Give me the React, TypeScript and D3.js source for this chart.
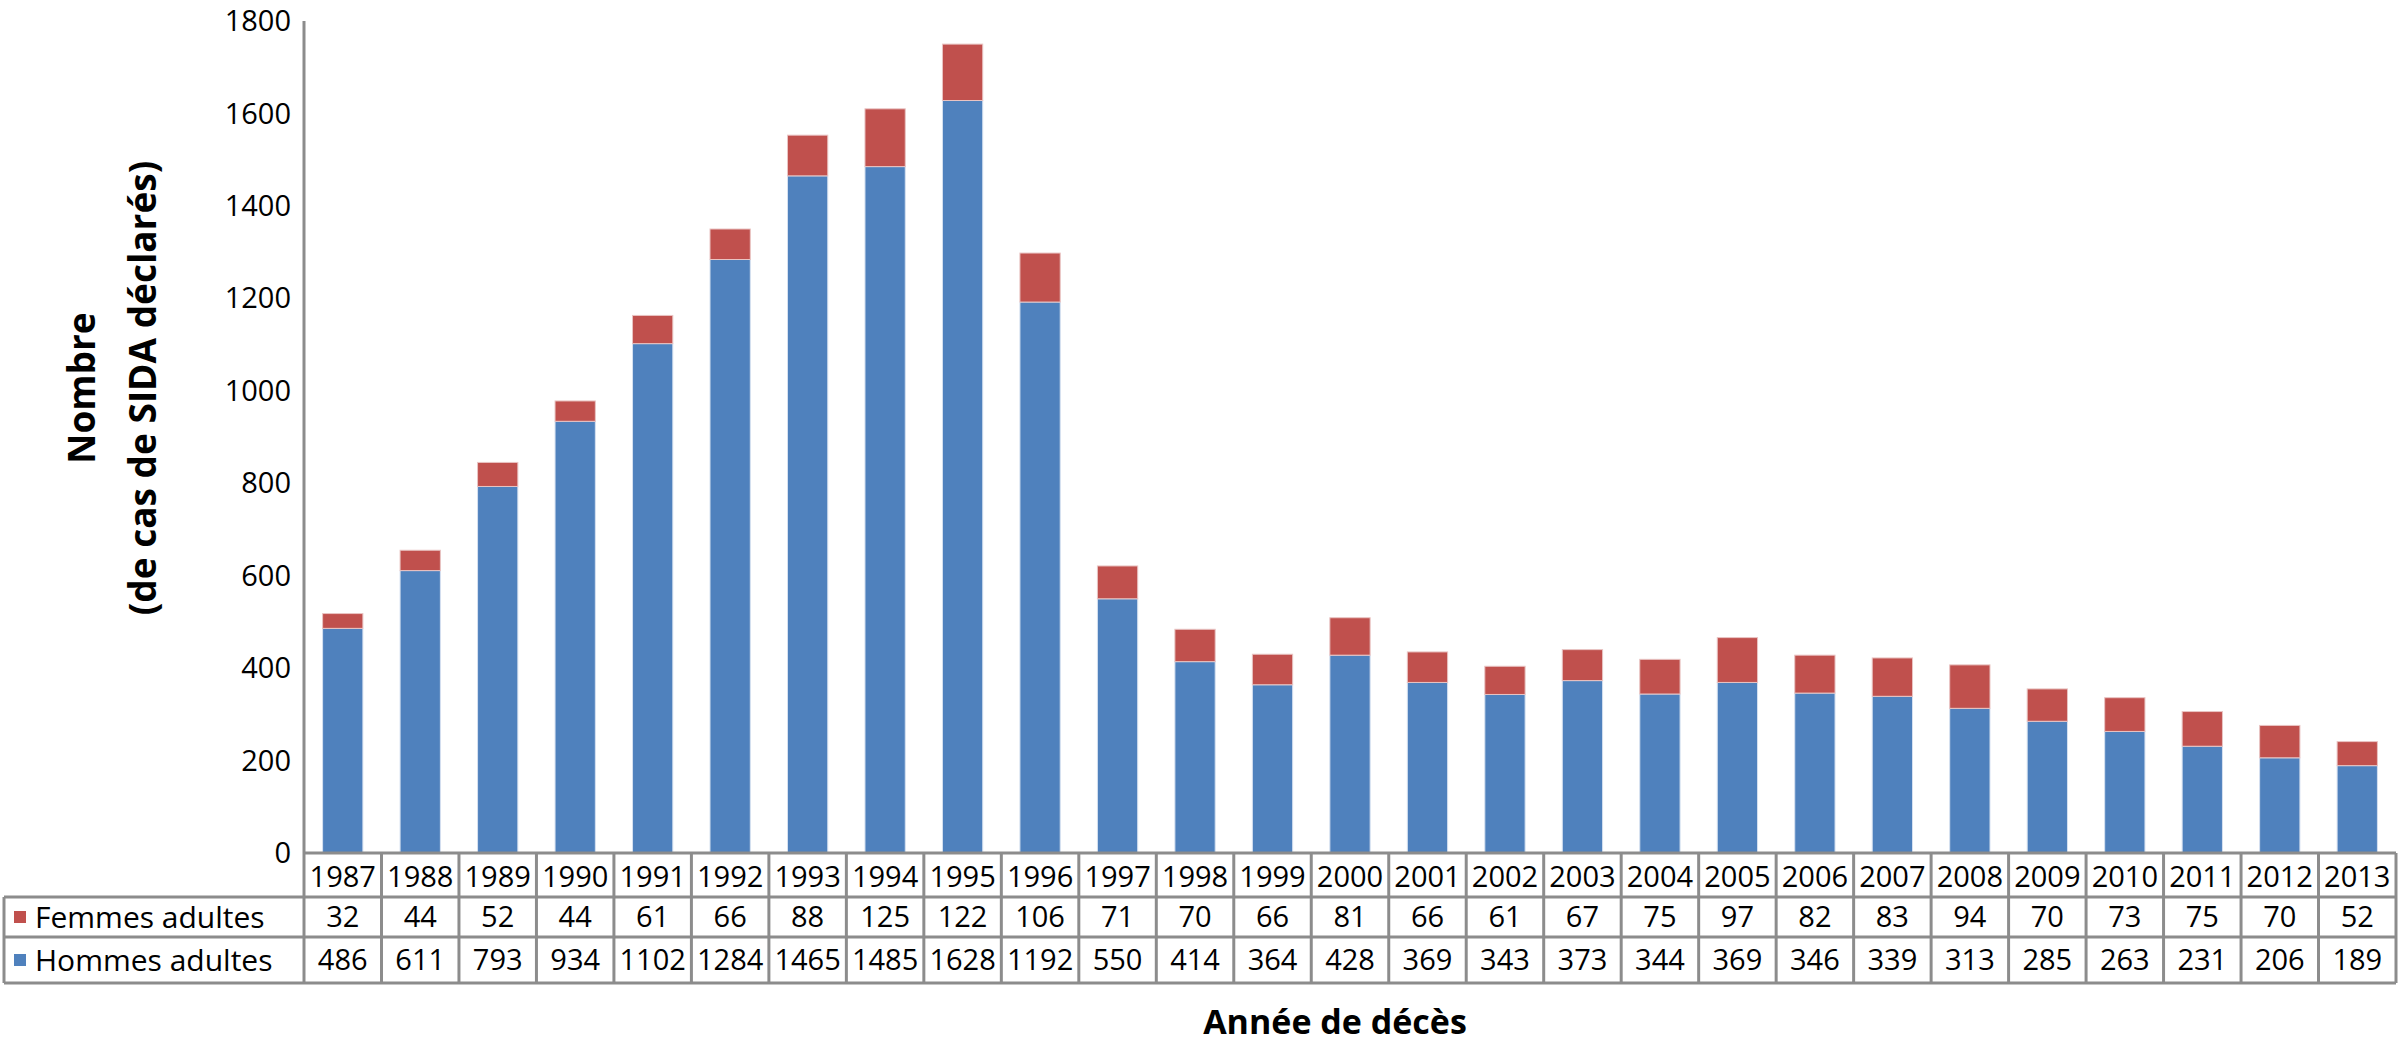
import React from 'react';
import * as d3 from 'd3';

const years = ['1987', '1988', '1989', '1990', '1991', '1992', '1993', '1994', '1995', '1996', '1997', '1998', '1999', '2000', '2001', '2002', '2003', '2004', '2005', '2006', '2007', '2008', '2009', '2010', '2011', '2012', '2013'];
const femmes = [32, 44, 52, 44, 61, 66, 88, 125, 122, 106, 71, 70, 66, 81, 66, 61, 67, 75, 97, 82, 83, 94, 70, 73, 75, 70, 52];
const hommes = [486, 611, 793, 934, 1102, 1284, 1465, 1485, 1628, 1192, 550, 414, 364, 428, 369, 343, 373, 344, 369, 346, 339, 313, 285, 263, 231, 206, 189];
const yTicks = [0, 200, 400, 600, 800, 1000, 1200, 1400, 1600, 1800];

const seriesNames = ['Femmes adultes', 'Hommes adultes'];
const colors = { femmes: '#C0504D', hommes: '#4F81BD' };

const W = 2398;
const H = 1054;
const font = "'Open Sans', sans-serif";
const gridColor = '#8c8c8c';

const App = () => {
    const left = 304;
    const right = 2396;
    const top = 21;
    const zeroY = 853;
    const rowY = [853, 897, 937, 983];
    const tableLeft = 4;

    const x = d3.scaleBand<string>().domain(years).range([left, right]).padding(0);
    const y = d3.scaleLinear().domain([0, 1800]).range([zeroY, top]);
    const barW = x.bandwidth() * 0.52;

    const rows = [femmes, hommes];
    const rowColors = [colors.femmes, colors.hommes];

    return (
        <svg width={W} height={H} style={{ position: 'absolute', left: 0, top: 0, background: '#fff' }} fontFamily={font}>
            {/* bars */}
            {years.map((yr, i) => {
                const cx = (x(yr) || 0) + x.bandwidth() / 2;
                const h0 = y(0);
                const h1 = y(hommes[i]);
                const h2 = y(hommes[i] + femmes[i]);
                return (
                    <g key={yr}>
                        <rect x={cx - barW / 2} y={h1} width={barW} height={h0 - h1} fill={colors.hommes} stroke="#d6e1f0" strokeWidth={1} />
                        <rect x={cx - barW / 2} y={h2} width={barW} height={h1 - h2} fill={colors.femmes} stroke="#e9c4c3" strokeWidth={1} />
                    </g>
                );
            })}

            {/* y axis */}
            <line x1={left} x2={left} y1={top} y2={zeroY} stroke={gridColor} strokeWidth={3} />
            {yTicks.map(t => (
                <text key={t} x={291} y={y(t)} dy="0.35em" textAnchor="end" fontSize={29} fill="#000">{t}</text>
            ))}

            {/* data table */}
            <line x1={left} x2={right} y1={rowY[0]} y2={rowY[0]} stroke={gridColor} strokeWidth={3} />
            {rowY.slice(1).map(ry => (
                <line key={ry} x1={tableLeft} x2={right} y1={ry} y2={ry} stroke={gridColor} strokeWidth={3} />
            ))}
            <line x1={tableLeft} x2={tableLeft} y1={rowY[1]} y2={rowY[3]} stroke={gridColor} strokeWidth={3} />
            <line x1={left} x2={left} y1={rowY[0]} y2={rowY[3]} stroke={gridColor} strokeWidth={3} />
            {years.map(yr => (
                <line key={yr} x1={(x(yr) || 0) + x.bandwidth()} x2={(x(yr) || 0) + x.bandwidth()} y1={rowY[0]} y2={rowY[3]} stroke={gridColor} strokeWidth={3} />
            ))}
            {years.map(yr => (
                <text key={yr} x={(x(yr) || 0) + x.bandwidth() / 2} y={(rowY[0] + rowY[1]) / 2 + 2} dy="0.35em" textAnchor="middle" fontSize={29} fill="#000">{yr}</text>
            ))}
            {rows.map((vals, r) => (
                <g key={r}>
                    <rect x={14} y={(rowY[r + 1] + rowY[r + 2]) / 2 - 6} width={12} height={12} fill={rowColors[r]} />
                    <text x={35} y={(rowY[r + 1] + rowY[r + 2]) / 2} dy="0.35em" fontSize={30} fill="#000">{seriesNames[r]}</text>
                    {vals.map((v, i) => (
                        <text key={i} x={(x(years[i]) || 0) + x.bandwidth() / 2} y={(rowY[r + 1] + rowY[r + 2]) / 2} dy="0.35em" textAnchor="middle" fontSize={29} fill="#000">{v}</text>
                    ))}
                </g>
            ))}

            {/* axis titles */}
            <text transform="translate(82,388) rotate(-90)" textAnchor="middle" dy="0.35em" fontSize={37} fontWeight="bold" fill="#000">Nombre</text>
            <text transform="translate(143,388) rotate(-90)" textAnchor="middle" dy="0.35em" fontSize={37} fontWeight="bold" fill="#000">(de cas de SIDA déclarés)</text>
            <text x={1335} y={1022} textAnchor="middle" dy="0.35em" fontSize={34} fontWeight="bold" fill="#000">Année de décès</text>
        </svg>
    );
};

export default App;
